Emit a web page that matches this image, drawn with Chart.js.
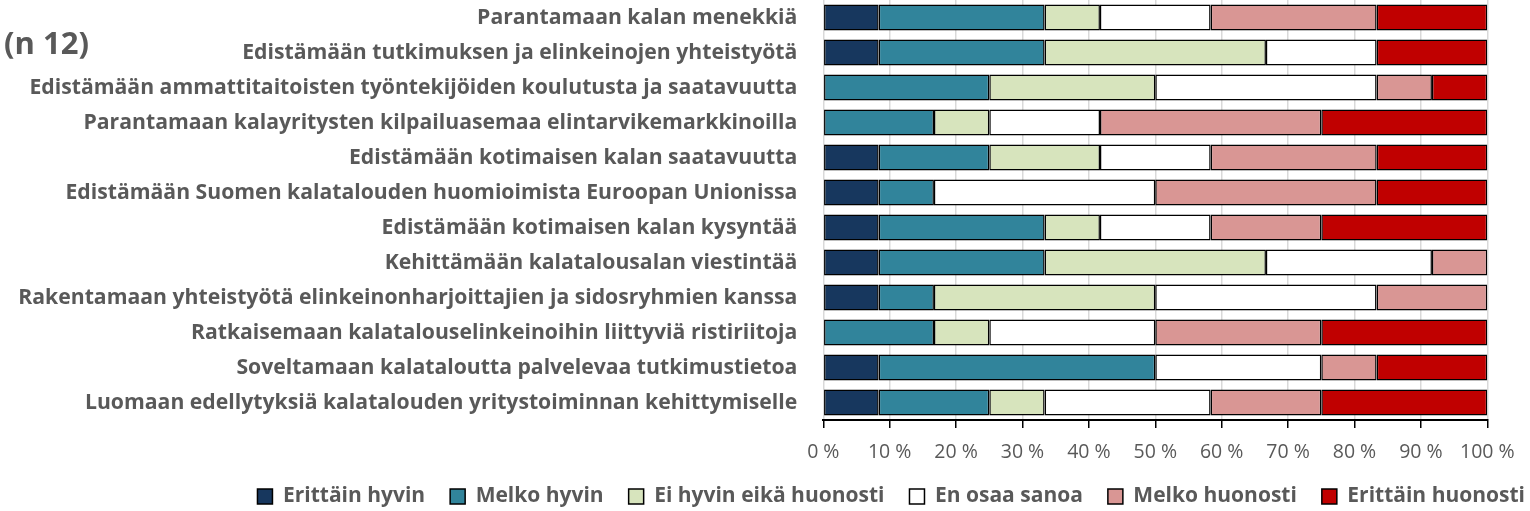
<!DOCTYPE html>
<html><head><meta charset="utf-8">
<script src="https://cdn.jsdelivr.net/npm/chart.js@4/dist/chart.umd.min.js"></script>
<style>html,body{margin:0;padding:0;background:#fff}#wrap{width:1530px;height:511px;position:relative}</style>
</head><body><div id="wrap"><canvas id="c" width="1530" height="511"></canvas></div>
<script>
const categories = [
  "Parantamaan kalan menekkiä",
  "Edistämään tutkimuksen ja elinkeinojen yhteistyötä",
  "Edistämään ammattitaitoisten työntekijöiden koulutusta ja saatavuutta",
  "Parantamaan kalayritysten kilpailuasemaa elintarvikemarkkinoilla",
  "Edistämään kotimaisen kalan saatavuutta",
  "Edistämään Suomen kalatalouden huomioimista Euroopan Unionissa",
  "Edistämään kotimaisen kalan kysyntää",
  "Kehittämään kalatalousalan viestintää",
  "Rakentamaan yhteistyötä elinkeinonharjoittajien ja sidosryhmien kanssa",
  "Ratkaisemaan kalatalouselinkeinoihin liittyviä ristiriitoja",
  "Soveltamaan kalataloutta palvelevaa tutkimustietoa",
  "Luomaan edellytyksiä kalatalouden yritystoiminnan kehittymiselle"
];
const seriesNames = ["Erittäin hyvin","Melko hyvin","Ei hyvin eikä huonosti","En osaa sanoa","Melko huonosti","Erittäin huonosti"];
const erittainHyvin   = [8.33, 8.33, 0,     0,     8.33, 8.33, 8.33, 8.33, 8.33, 0,     8.33, 8.33];
const melkoHyvin      = [25,   25,   25,    16.67, 16.67,8.33, 25,   25,   8.33, 16.67, 41.67,16.67];
const eiHyvinEika     = [8.33, 33.33,25,    8.33,  16.67,0,    8.33, 33.33,33.33,8.33,  0,    8.33];
const enOsaaSanoa     = [16.67,16.67,33.33, 16.67, 16.67,33.33,16.67,25,   33.33,25,    25,   25];
const melkoHuonosti   = [25,   0,    8.33,  33.33, 25,   33.33,16.67,8.33, 16.67,25,    8.33, 16.67];
const erittainHuonosti= [16.67,16.67,8.33,  25,    16.67,16.67,25,   0,    0,    25,    16.67,25];
const xTickLabels = ["0 %","10 %","20 %","30 %","40 %","50 %","60 %","70 %","80 %","90 %","100 %"];
const noteText = "(n 12)";
const colors = ["#17375E","#31849B","#D7E4BD","#FFFFFF","#D99694","#C00000"];
const seriesData = [erittainHyvin, melkoHyvin, eiHyvinEika, enOsaaSanoa, melkoHuonosti, erittainHuonosti];

const gray = "#595959";
const FONT = "'Open Sans'";
const noteLabel = {
  id: "noteLabel",
  afterDraw(chart) {
    const ctx = chart.ctx;
    ctx.save();
    ctx.font = "bold 31px 'Open Sans'";
    ctx.fillStyle = gray;
    ctx.textBaseline = "middle";
    ctx.textAlign = "left";
    ctx.fillText(noteText, 4, 45);
    ctx.restore();
  }
};

new Chart(document.getElementById("c"), {
  type: "bar",
  data: {
    labels: categories,
    datasets: seriesData.map((d, i) => ({
      label: seriesNames[i],
      data: d,
      backgroundColor: colors[i],
      borderColor: "#000000",
      borderWidth: 1.5,
      borderSkipped: false,
      barPercentage: 0.74,
      categoryPercentage: 1
    }))
  },
  options: {
    indexAxis: "y",
    responsive: false,
    animation: false,
    layout: { padding: { top: 0, left: 0, right: -20, bottom: -6 } },
    scales: {
      x: {
        stacked: true,
        min: 0, max: 100,
        afterFit(s) { s.height = 41; s.paddingRight = 42.7; s.paddingLeft = 0; },
        grid: { color: "#D9D9D9", lineWidth: 1.5, tickColor: "#000", tickLength: 8, drawOnChartArea: true },
        border: { color: "#000", width: 2 },
        ticks: {
          stepSize: 10, padding: 13,
          color: gray,
          font: { family: FONT, size: 19.5 },
          callback: (v, i) => xTickLabels[i]
        }
      },
      y: {
        stacked: true,
        afterFit(s) { s.width = 823.3; s.paddingTop = 0; s.paddingBottom = 0; },
        grid: { display: false, drawTicks: false },
        border: { display: false },
        ticks: {
          padding: 26,
          color: gray,
          font: { family: FONT, size: 21.2, weight: "bold" }
        }
      }
    },
    plugins: {
      legend: {
        position: "bottom",
        align: "end",
        labels: {
          boxWidth: 15, boxHeight: 15, padding: 25,
          color: gray,
          font: { family: FONT, size: 21, weight: "bold" }
        }
      },
      tooltip: { enabled: false }
    }
  },
  plugins: [noteLabel]
});
</script>
</body></html>
